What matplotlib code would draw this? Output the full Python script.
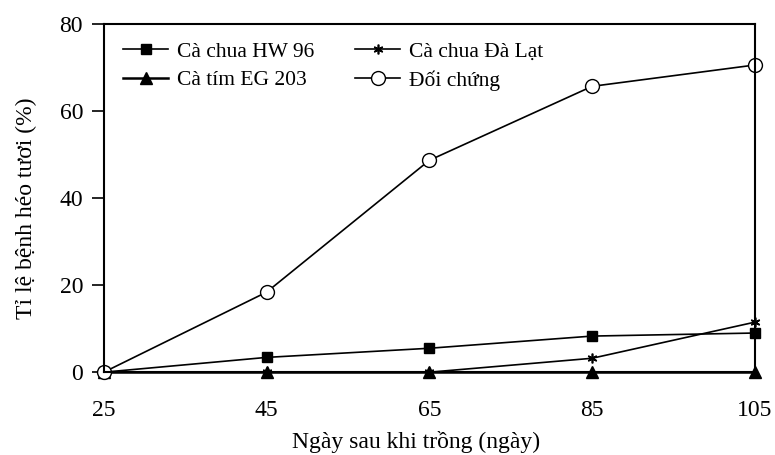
import numpy as np
import matplotlib
matplotlib.use("Agg")
import matplotlib.pyplot as plt

plt.rcParams['font.family'] = ['Liberation Serif', 'DejaVu Serif']

days = [25, 45, 65, 85, 105]
hw96 = [0, 3.4, 5.5, 8.3, 9.0]
dalat = [0, 0, 0, 3.2, 11.5]
eg203 = [0, 0, 0, 0, 0]
control = [0, 18.4, 48.7, 65.7, 70.6]

labels = ["Cà chua HW 96", "Cà chua Đà Lạt", "Cà tím EG 203", "Đối chứng"]
y_ticks = [0, 20, 40, 60, 80]

fig = plt.figure(figsize=(7.75, 4.55), dpi=100)
ax = fig.add_axes([0.134, 0.182, 0.840, 0.765])

l1, = ax.plot(days, hw96, '-', color='black', lw=1.2, marker='s', ms=7, mfc='black', mec='black')
l2, = ax.plot(days, dalat, '-', color='black', lw=1.2, marker=(6, 2, 0), ms=7, mec='black', mew=1.2)
l3, = ax.plot(days, eg203, '-', color='black', lw=1.8, marker='^', ms=8, mfc='black', mec='black')
l4, = ax.plot(days, control, '-', color='black', lw=1.2, marker='o', ms=10, mfc='white', mec='black', mew=1.0)

ax.set_xlim(25, 105)
ax.set_ylim(0, 80)
ax.set_xticks(days)
ax.set_yticks(y_ticks)
ax.tick_params(axis='both', labelsize=17, direction='out', width=1.2)
ax.tick_params(axis='x', length=5, pad=15)
ax.tick_params(axis='y', length=9, pad=6)
for s in ax.spines.values():
    s.set_linewidth(1.5)
for p in ax.lines:
    p.set_clip_on(False)

ax.set_xlabel("Ngày sau khi trồng (ngày)", fontsize=17)
ax.set_ylabel("Tỉ lệ bệnh héo tươi (%)", fontsize=17)
ax.xaxis.set_label_coords(0.48, -0.17)
ax.yaxis.set_label_coords(-0.103, 0.47)

# column-first filling: order so rows read HW96 | Da Lat, EG203 | control
ax.legend([l1, l3, l2, l4], [labels[0], labels[2], labels[1], labels[3]],
          loc='upper left', ncol=2, frameon=False, fontsize=15.5, handlelength=2.1,
          columnspacing=1.9, labelspacing=0.4, handletextpad=0.4,
          bbox_to_anchor=(0.0, 1.005))

fig.savefig("out.png", dpi=100)
